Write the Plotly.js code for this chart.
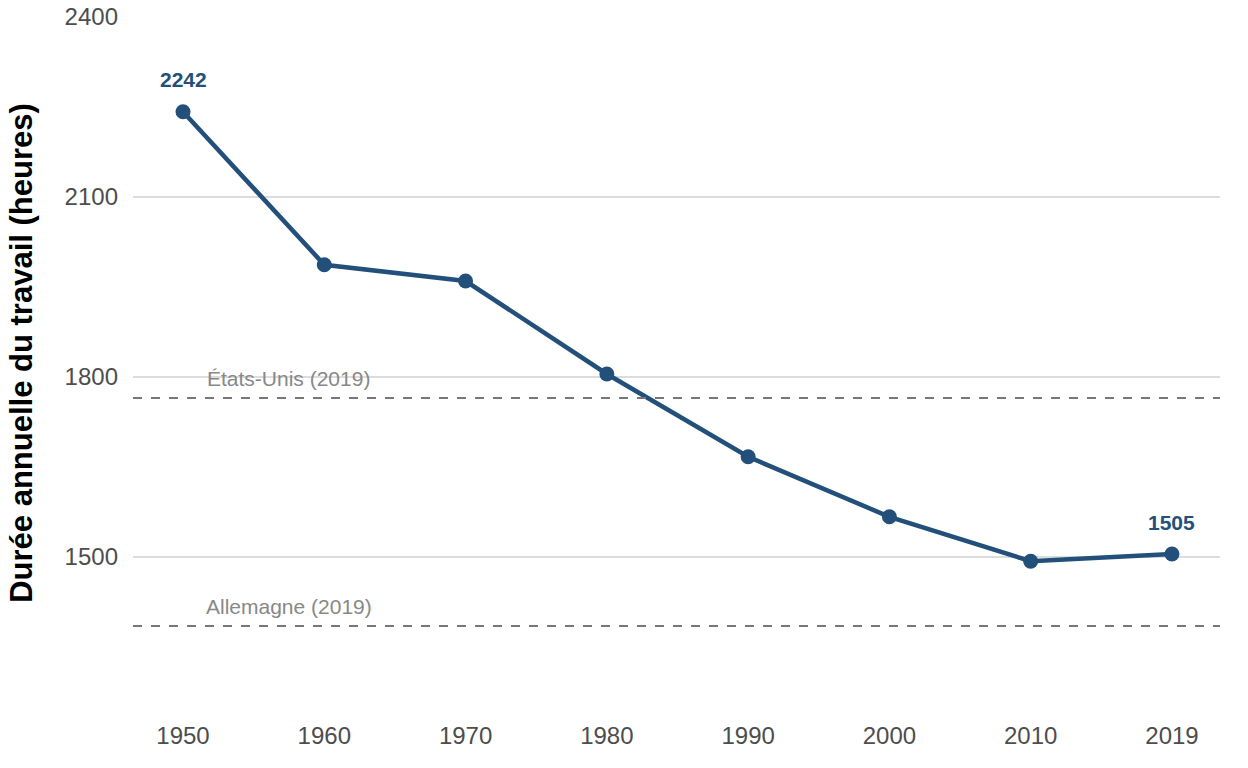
<!DOCTYPE html>
<html>
<head>
<meta charset="utf-8">
<script src="https://cdn.plot.ly/plotly-3.0.1.min.js"></script>
<style>html,body{margin:0;padding:0;background:#fff}#chart{width:1248px;height:768px}</style>
</head>
<body>
<div id="chart"></div>
<script>
// Durée annuelle du travail
const years = ['1950', '1960', '1970', '1980', '1990', '2000', '2010', '2019'];
const hours = [2242, 1987, 1960, 1805, 1667, 1567, 1493, 1505];
const refNames = ['États-Unis (2019)', 'Allemagne (2019)'];
const refHours = [1765, 1385];
const yTicks = [1500, 1800, 2100, 2400];

const blue = '#23507a';

const trace = {
    x: years,
    y: hours,
    type: 'scatter',
    mode: 'lines+markers',
    line: { color: blue, width: 4.5 },
    marker: { color: blue, size: 15 },
    hoverinfo: 'x+y'
};

const shapes = refHours.map(v => ({
    type: 'line', xref: 'paper', x0: 0, x1: 1, yref: 'y', y0: v, y1: v,
    line: { color: '#777', width: 2, dash: 'dash' }
}));

const annotations = refHours.map((v, i) => ({
    x: 0.75, y: v, xref: 'x', yref: 'y', text: refNames[i], showarrow: false,
    yshift: 20, font: { family: 'Liberation Sans, Arial', size: 21, color: '#888' }
}));

// first and last values labelled
[0, hours.length - 1].forEach(i => {
    annotations.push({
        x: i, y: hours[i], xref: 'x', yref: 'y', text: '<b>' + hours[i] + '</b>', showarrow: false,
        yshift: 32, font: { family: 'Liberation Sans, Arial', size: 21, color: blue }
    });
});

const layout = {
    width: 1248, height: 768,
    paper_bgcolor: '#fff', plot_bgcolor: '#fff',
    margin: { l: 133, r: 28, t: 17, b: 79 },
    showlegend: false,
    font: { family: 'Liberation Sans, Arial', color: '#4d4d4d' },
    xaxis: {
        type: 'category', range: [-0.354, 7.34],
        showgrid: false, zeroline: false, showline: false,
        tickfont: { size: 24, color: '#4d4d4d' }, ticklabelstandoff: 30
    },
    yaxis: {
        range: [1280, 2400], tickvals: yTicks,
        showgrid: true, gridcolor: '#dcdcdc', gridwidth: 2, zeroline: false,
        tickfont: { size: 24, color: '#4d4d4d' }, ticklabelstandoff: 14,
        title: { text: '<b>Durée annuelle du travail (heures)</b>', font: { size: 31, color: '#000' }, standoff: 22 }
    },
    shapes: shapes,
    annotations: annotations
};

Plotly.newPlot('chart', [trace], layout, { displayModeBar: false });
</script>
</body>
</html>
